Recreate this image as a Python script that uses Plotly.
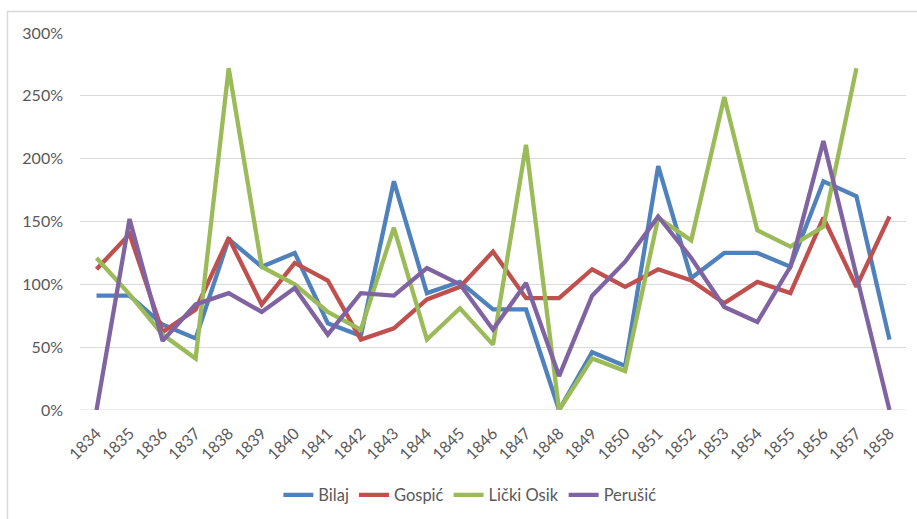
import plotly.graph_objects as go

# Years on the category axis
years = [str(y) for y in range(1834, 1859)]

# Yearly ratios per parish, in percent
bilaj = [91, 91, 68, 57, 136, 114, 125, 69, 59, 182, 93, 102, 80, 80, 0, 46, 35, 194, 105, 125, 125, 114, 182, 170, 56]
gospic = [112, 140, 62, 80, 137, 84, 117, 103, 56, 65, 88, 98, 126, 89, 89, 112, 98, 112, 103, 85, 102, 93, 153, 98, 154]
licki_osik = [121, 92, 60, 41, 272, 114, 100, 78, 64, 145, 56, 81, 52, 211, 0, 41, 31, 153, 135, 249, 143, 130, 146, 272, None]
perusic = [0, 152, 55, 84, 93, 78, 97, 60, 93, 91, 113, 100, 64, 101, 27, 91, 118, 154, 121, 82, 70, 114, 214, 107, 0]

series = [
    ("Bilaj", bilaj, "#4F81BD"),
    ("Gospić", gospic, "#C0504D"),
    ("Lički Osik", licki_osik, "#9BBB59"),
    ("Perušić", perusic, "#8064A2"),
]

FONT = "Lato"
TEXT = "#595959"
GRID = "#D9D9D9"

fig = go.Figure()
for name, vals, color in series:
    fig.add_trace(go.Scatter(
        x=years,
        y=[None if v is None else v / 100 for v in vals],
        name=name,
        mode="lines",
        line=dict(color=color, width=4.3),
        connectgaps=False,
    ))

fig.update_layout(
    width=917,
    height=519,
    margin=dict(l=80, r=11, t=33, b=108.5, autoexpand=False),
    paper_bgcolor="white",
    plot_bgcolor="white",
    font=dict(family=FONT, color=TEXT, size=16),
    showlegend=True,
    legend=dict(
        orientation="h",
        x=0.472,
        xanchor="center",
        y=-0.226,
        yanchor="middle",
        font=dict(size=16.5, color=TEXT),
        itemwidth=30,
        tracegroupgap=0,
    ),
    xaxis=dict(
        type="category",
        range=[-0.5, 24.5],
        tickangle=-45,
        tickfont=dict(size=16, color=TEXT),
        showgrid=False,
        showline=False,
        ticks="",
        zeroline=False,
        automargin=False,
        ticklabelstandoff=10,
    ),
    yaxis=dict(
        range=[0, 3],
        dtick=0.5,
        tickformat=".0%",
        tickfont=dict(size=16, color=TEXT),
        showgrid=True,
        gridcolor=GRID,
        gridwidth=1,
        zeroline=False,
        showline=False,
        ticks="",
        automargin=False,
        ticklabelstandoff=16,
    ),
    shapes=[
        # outer chart frame
        dict(type="rect", xref="paper", yref="paper",
             x0=-0.0878, x1=1.03, y0=-0.3, y1=1.057,
             line=dict(color=GRID, width=1.5), fillcolor="rgba(0,0,0,0)", layer="below"),
        # baseline at 0%
        dict(type="line", xref="paper", yref="y",
             x0=0, x1=1, y0=0, y1=0,
             line=dict(color=GRID, width=1), layer="below"),
    ],
)

fig.write_html("out.html")
